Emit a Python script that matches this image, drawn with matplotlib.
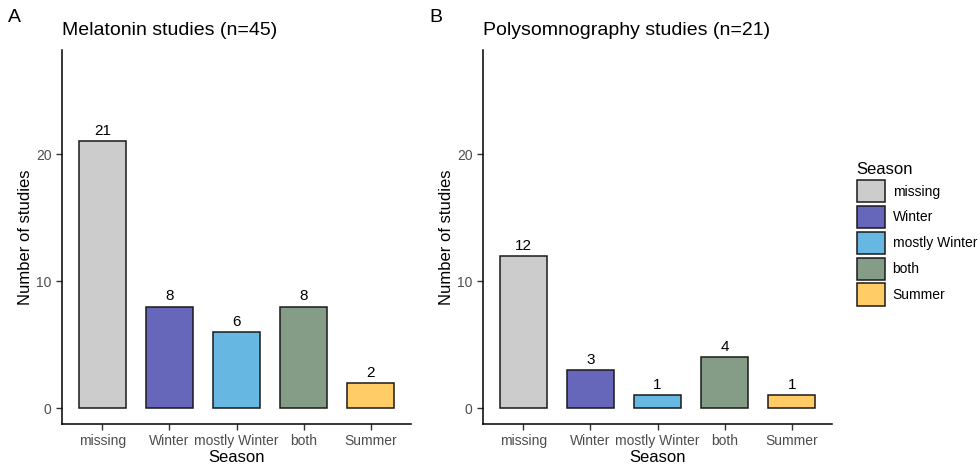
import matplotlib

matplotlib.use("Agg")
import matplotlib.pyplot as plt
from matplotlib.patches import Patch

seasons = ["missing", "Winter", "mostly Winter", "both", "Summer"]
melatonin = [21, 8, 6, 8, 2]
psg = [12, 3, 1, 4, 1]
colors = ["#CCCCCC", "#6666BB", "#66B8E3", "#859C86", "#FFCC66"]
titles = ["Melatonin studies (n=45)", "Polysomnography studies (n=21)"]
tags = ["A", "B"]

plt.rcParams["font.family"] = ["Liberation Sans", "DejaVu Sans"]

W, H = 980, 468
fig = plt.figure(figsize=(W / 100, H / 100), dpi=100, facecolor="white")

panels = [(62, 411), (483, 832)]
top, bottom = 50, 424
for (x0, x1), vals, title, tag in zip(panels, [melatonin, psg], titles, tags):
    ax = fig.add_axes([x0 / W, 1 - bottom / H, (x1 - x0) / W, (bottom - top) / H])
    xs = list(range(1, len(seasons) + 1))
    ax.bar(xs, vals, width=0.7, color=colors, edgecolor="#1a1a1a", linewidth=1.1)
    for x, v in zip(xs, vals):
        ax.text(x, v + 0.25, str(v), ha="center", va="bottom", fontsize=11, color="black")
    ax.set_xlim(0.4, 5.6)
    ax.set_ylim(-1.25, 28.2)
    ax.set_yticks([0, 10, 20])
    ax.set_xticks(xs)
    ax.set_xticklabels(seasons)
    ax.tick_params(axis="both", colors="#333333", labelcolor="#4D4D4D", labelsize=10, length=4, width=1)
    for s in ["top", "right"]:
        ax.spines[s].set_visible(False)
    for s in ["left", "bottom"]:
        ax.spines[s].set_linewidth(1.1)
        ax.spines[s].set_color("black")
    ax.set_xlabel("Season", fontsize=12, labelpad=1)
    ax.set_ylabel("Number of studies", fontsize=12, labelpad=2)
    ax.set_title(title, fontsize=14, loc="left", pad=11, x=0)
    fig.text((x0 - 54) / W, 1 - 17 / H, tag, fontsize=14, va="center", ha="left")

handles = [Patch(facecolor=c, edgecolor="#1a1a1a", linewidth=1.1, label=s) for c, s in zip(colors, seasons)]
leg = fig.legend(handles=handles, title="Season", loc="upper left",
                 bbox_to_anchor=(851 / W, 1 - 156 / H), frameon=False,
                 fontsize=10, title_fontsize=12, handlelength=2.05, handleheight=2.1,
                 handletextpad=0.55, labelspacing=0.25, borderaxespad=0)
leg._legend_box.align = "left"

fig.savefig("out.png", dpi=100, facecolor="white")
